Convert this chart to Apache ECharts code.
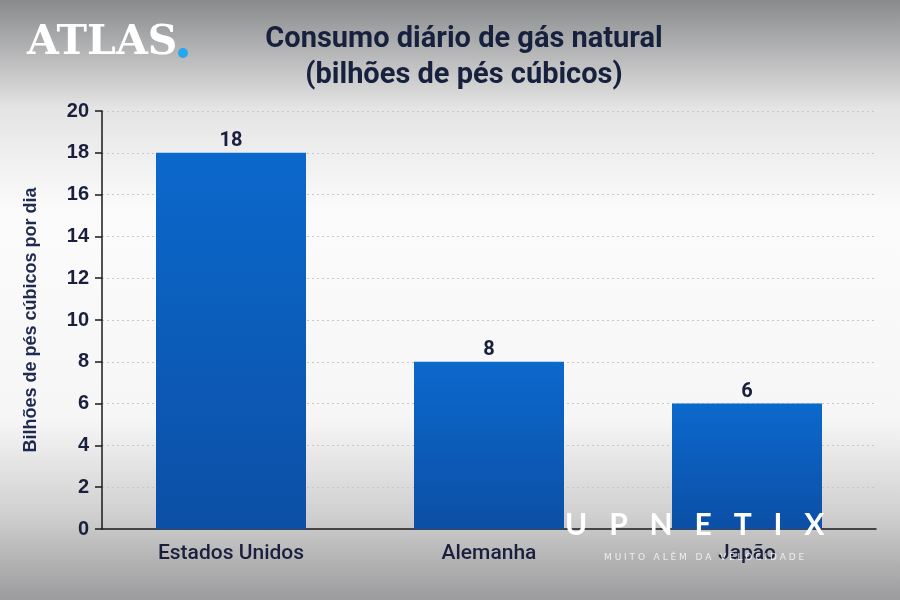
<!DOCTYPE html>
<html><head><meta charset="utf-8">
<script src="https://cdn.jsdelivr.net/npm/echarts@6/dist/echarts.min.js"></script>
<style>html,body{margin:0;padding:0}#c{width:900px;height:600px}</style>
</head><body><div id="c"></div>
<script>
const categories = ["Estados Unidos", "Alemanha", "Japão"];
const values = [18, 8, 6];
const titleLines = ["Consumo diário de gás natural", "(bilhões de pés cúbicos)"];
const yAxisName = "Bilhões de pés cúbicos por dia";

const chart = echarts.init(document.getElementById('c'));
const navy = '#1a1f3d';
chart.setOption({
  backgroundColor: new echarts.graphic.LinearGradient(0, 0, 0, 1, [
    {offset: 0, color: '#898a8c'},
    {offset: 0.18, color: '#e4e4e4'},
    {offset: 0.35, color: '#fbfbfb'},
    {offset: 0.7, color: '#f6f6f6'},
    {offset: 0.86, color: '#cfcfcf'},
    {offset: 1, color: '#9b9b9d'}
  ]),
  title: {
    text: titleLines.join('\n'),
    left: 459, top: 17, textAlign: 'center',
    textStyle: {fontFamily: 'Roboto', fontWeight: 'bold', fontSize: 29, color: '#17203d', lineHeight: 36}
  },
  grid: {left: 102, right: 24, top: 111, bottom: 71},
  xAxis: {
    type: 'category', data: categories,
    axisLine: {lineStyle: {color: '#1a1a1a', width: 1.5}},
    axisTick: {show: false},
    axisLabel: {fontFamily: 'Roboto', fontWeight: 500, fontSize: 21, color: navy, margin: 14}
  },
  yAxis: {
    type: 'value', min: 0, max: 20, interval: 2,
    name: yAxisName, nameLocation: 'middle', nameGap: 62, nameRotate: 90,
    nameTextStyle: {fontFamily: '"Liberation Sans"', fontWeight: 'bold', fontSize: 18, color: '#1e2a50'},
    axisLine: {show: true, lineStyle: {color: '#1a1a1a', width: 1.5}},
    axisTick: {show: true, length: 7, lineStyle: {color: '#1a1a1a', width: 1.5}},
    axisLabel: {fontFamily: '"Liberation Sans"', fontWeight: 'bold', fontSize: 20, color: navy, margin: 13},
    splitLine: {lineStyle: {color: '#c8c8c8', type: [2, 3], width: 1}}
  },
  series: [{
    type: 'bar', data: values, barWidth: 150,
    itemStyle: {color: new echarts.graphic.LinearGradient(0, 0, 0, 1, [
      {offset: 0, color: '#0b69cc'}, {offset: 1, color: '#0c4fa6'}])},
    label: {show: true, position: 'top', distance: 2, fontFamily: 'Roboto', fontWeight: 'bold', fontSize: 20, color: navy}
  }],
  graphic: [
    {type: 'text', left: 27, top: 23, z: 10, style: {
      text: 'ATLAS', font: 'bold 41px "DejaVu Serif"', fill: '#ffffff',
      shadowBlur: 4, shadowColor: 'rgba(0,0,0,0.45)', shadowOffsetX: 1, shadowOffsetY: 1}},
    {type: 'circle', shape: {cx: 183, cy: 53, r: 5}, z: 10, style: {fill: '#22a8ee'}},
    {type: 'text', left: 565, top: 510, z: 20, style: {
      text: 'U   P   N   E   T   I   X', font: 'bold 30px Lato', fill: '#ffffff',
      shadowBlur: 6, shadowColor: 'rgba(0,0,0,0.5)'}},
    {type: 'text', left: 604, top: 553, z: 20, style: {
      text: 'M U I T O   A L É M   D A   V E L O C I D A D E', font: '9px "DejaVu Sans"', fill: '#eeeeee',
      shadowBlur: 3, shadowColor: 'rgba(0,0,0,0.4)'}}
  ]
});
</script></body></html>
